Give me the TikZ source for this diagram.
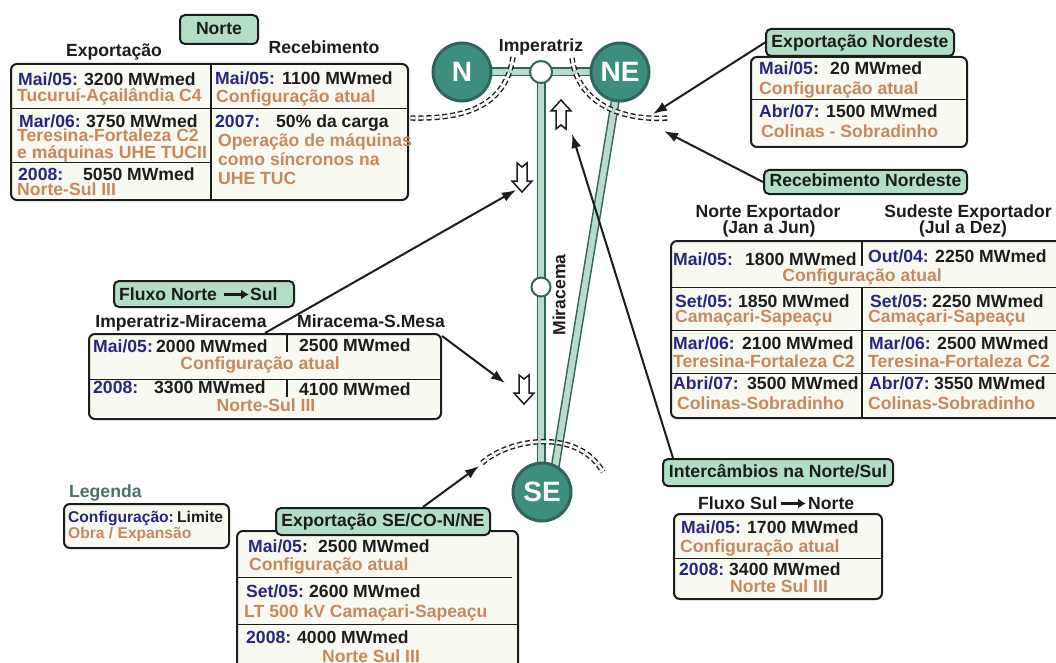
\documentclass[tikz,border=0pt]{standalone}
\usepackage{fontspec}
\setmainfont{Liberation Sans}
\usetikzlibrary{arrows.meta}
\definecolor{navy}{RGB}{40,38,128}
\definecolor{ocre}{RGB}{201,136,92}
\definecolor{ink}{RGB}{28,28,28}
\definecolor{cream}{RGB}{248,249,240}
\definecolor{mint}{RGB}{178,222,198}
\definecolor{tealA}{RGB}{62,142,126}
\definecolor{tealB}{RGB}{50,100,94}
\definecolor{barfill}{RGB}{182,221,202}
\definecolor{legc}{RGB}{78,112,108}
\pgfdeclarelayer{bg}\pgfsetlayers{bg,main}
\begin{document}
\begin{tikzpicture}[x=1pt,y=-1pt,
  tx/.style={font=\fontsize{17.6}{19}\selectfont\bfseries, inner sep=0pt, anchor=base west, text=ink},
  dt/.style={tx, text=navy},
  ob/.style={tx, text=ocre},
  txc/.style={tx, anchor=base},
  obc/.style={ob, anchor=base},
  sm/.style={font=\fontsize{15.6}{17}\selectfont\bfseries, inner sep=0pt, anchor=base west},
  tbox/.style={draw=ink, line width=2pt, rounded corners=6pt, fill=cream, inner sep=0pt, anchor=north west},
  lbox/.style={draw=ink, line width=2pt, rounded corners=5pt, fill=mint, inner sep=0pt, anchor=north west,
     font=\fontsize{17.6}{19}\selectfont\bfseries, text=ink, text height=12.7pt, text depth=3.5pt},
  sep/.style={draw=ink, line width=1pt},
  dv/.style={draw=ink, line width=2pt},
  bus/.style={draw=tealB, line width=1.5pt, double=barfill, double distance=6pt},
  big/.style={circle, draw=tealB, line width=3pt, fill=tealA, minimum size=58pt, inner sep=0pt, text=white,
     font=\fontsize{28}{28}\selectfont\bfseries},
  sml/.style={circle, draw=tealB, line width=2pt, fill=white, inner sep=0pt},
  ptr/.style={draw=ink, line width=2pt, -{Latex[length=14pt,width=10pt]}},
  flowarr/.style={draw=ink, line width=2.6pt, -{Latex[length=8pt,width=10pt]}},
  cut/.style={draw=ink, line width=1.4pt, double=white, double distance=2.6pt, dash pattern=on 5pt off 3pt},
  blk/.style={draw=ink, line width=1.5pt, fill=white, line join=miter},
  uparr/.pic={\draw[blk] (0,0) -- (10,11) -- (5,11) -- (5,29) -- (0,25) -- (-5,29) -- (-5,11) -- (-10,11) -- cycle;}
]
\useasboundingbox (0,0) rectangle (1056,663);
\begin{pgfonlayer}{bg}
\fill[white] (0,0) rectangle (1056,663);
\end{pgfonlayer}

% ---------------- network ----------------
\node[big] (N) at (462,72) {N};
\node[big] (NE) at (620,72) {NE};
\node[big] (SE) at (542,492) {SE};
\node[sml, minimum size=22pt] (imp) at (541,72) {};
\node[sml, minimum size=19pt] (mir) at (541,287) {};
\coordinate (dgend) at (551,492);
\coordinate (vend) at (541,492);
\begin{pgfonlayer}{bg}
\draw[bus] (N.center) -- (NE.center);
\draw[bus] (imp.center) -- (vend);
\draw[bus] (NE.center) -- (dgend);
\end{pgfonlayer}
\node[txc] (impl) at (541,52) {Imperatriz};
\node[tx, anchor=center, rotate=90] (mirl) at (559,295) {Miracema};

% cut sections
\draw[cut] (513,57) .. controls (505,112) and (455,119) .. (410,118);
\draw[cut] (572,58) .. controls (578,104) and (622,121) .. (668,118);
\draw[cut] (482,463) .. controls (510,438) and (578,428) .. (603,472);

% block arrows
\pic at (561,100) {uparr};
\pic[rotate=180] at (522,192) {uparr};
\pic[rotate=180] at (524,404) {uparr};

% ---------------- Norte ----------------
\node[lbox, minimum width=78pt, minimum height=29pt] (norte) at (179,14) {Norte};
\node[txc] (h1) at (114,57) {Exportação};
\node[txc] (h2) at (324,54) {Recebimento};
\node[tbox, minimum width=397pt, minimum height=136pt] (nt) at (10,63) {};
\draw[dv] (211,63) -- (211,199);
\draw[sep] (10,108.5) -- (407,108.5);
\draw[sep] (10,163) -- (211,163);
\node[dt] (a1) at (18,86) {Mai/05:};
\node[tx] (a2) at (84,86) {3200 MWmed};
\node[ob] (a3) at (17,102) {Tucuruí-Açailândia C4};
\node[dt] (a4) at (19,128) {Mar/06:};
\node[tx] (a5) at (86,128) {3750 MWmed};
\node[ob] (a6) at (17,142) {Teresina-Fortaleza C2};
\node[ob] (a7) at (17,158) {e máquinas UHE TUCII};
\node[dt] (a8) at (18,180) {2008:};
\node[tx] (a9) at (83,180) {5050 MWmed};
\node[ob] (a10) at (17,195) {Norte-Sul III};
\node[dt] (b1) at (215,85) {Mai/05:};
\node[tx] (b2) at (282,85) {1100 MWmed};
\node[ob] (b3) at (216,103) {Configuração atual};
\node[dt] (b4) at (215,128) {2007:};
\node[tx] (b5) at (276,128) {50\% da carga};
\node[ob] (b6) at (218,147) {Operação de máquinas};
\node[ob] (b7) at (218,166) {como síncronos na};
\node[ob] (b8) at (218,184) {UHE TUC};

% ---------------- Exportacao Nordeste ----------------
\node[tbox, minimum width=216pt, minimum height=90pt] (ent) at (750,56) {};
\draw[sep] (750,100) -- (966,100);
\node[lbox, minimum width=188pt, minimum height=27pt] (expne) at (765,28) {Exportação Nordeste};
\node[dt] (c1) at (759,75) {Mai/05\textcolor{ink}{:}};
\node[tx] (c2) at (830,75) {20 MWmed};
\node[ob] (c3) at (759,95) {Configuração atual};
\node[dt] (c4) at (759,118) {Abr/07:};
\node[tx] (c5) at (826,118) {1500 MWmed};
\node[ob] (c6) at (761,138) {Colinas - Sobradinho};

% ---------------- Recebimento Nordeste ----------------
\node[lbox, minimum width=203pt, minimum height=24pt] (recne) at (763,169) {Recebimento Nordeste};
\node[txc] (h3) at (768,217) {Norte Exportador};
\node[txc] (h4) at (769,233) {(Jan a Jun)};
\node[txc] (h5) at (968,217) {Sudeste Exportador};
\node[txc] (h6) at (963,233) {(Jul a Dez)};
\node[tbox, minimum width=400pt, minimum height=177pt] (rt) at (670,240) {};
\draw[dv] (862,240) -- (862,266);
\draw[dv] (862,287) -- (862,417);
\draw[sep] (670,287) -- (1070,287);
\draw[sep] (670,330) -- (1070,330);
\draw[sep] (670,373) -- (1070,373);
\node[dt] (d1) at (673,265) {Mai/05:};
\node[tx] (d2) at (745,265) {1800 MWmed};
\node[dt] (d3) at (868,262) {Out/04:};
\node[tx] (d4) at (935,262) {2250 MWmed};
\node[obc] (d5) at (862,281) {Configuração atual};
\node[dt] (d6) at (675,307) {Set/05:};
\node[tx] (d7) at (738,307) {1850 MWmed};
\node[ob] (d8) at (675,322) {Camaçari-Sapeaçu};
\node[dt] (d9) at (870,307) {Set/05:};
\node[tx] (d10) at (932,307) {2250 MWmed};
\node[ob] (d11) at (868,322) {Camaçari-Sapeaçu};
\node[dt] (d12) at (673,349) {Mar/06:};
\node[tx] (d13) at (742,349) {2100 MWmed};
\node[ob] (d14) at (673,367) {Teresina-Fortaleza C2};
\node[dt] (d15) at (869,349) {Mar/06:};
\node[tx] (d16) at (937,349) {2500 MWmed};
\node[ob] (d17) at (868,367) {Teresina-Fortaleza C2};
\node[dt] (d18) at (673,389) {Abri/07:};
\node[tx] (d19) at (747,389) {3500 MWmed};
\node[ob] (d20) at (677,409) {Colinas-Sobradinho};
\node[dt] (d21) at (869,389) {Abr/07:};
\node[tx] (d22) at (934,389) {3550 MWmed};
\node[ob] (d23) at (868,409) {Colinas-Sobradinho};

% ---------------- Fluxo Norte -> Sul ----------------
\node[lbox, minimum width=180pt, minimum height=26pt] (flab) at (113,280) {};
\node[tx] (fl1) at (119,300) {Fluxo Norte};
\node[tx] (fl2) at (250,300) {Sul};
\coordinate (fa1) at (224,294.5);
\coordinate (fa2) at (249,294.5);
\draw[flowarr] (fa1) -- (fa2);
\node[txc] (h7) at (181,327) {Imperatriz-Miracema};
\node[txc] (h8) at (371,327) {Miracema-S.Mesa};
\node[tbox, minimum width=352pt, minimum height=85pt] (fl) at (88,333) {};
\draw[sep] (88,379) -- (440,379);
\draw[dv] (287,333) -- (287,352);
\draw[dv] (287,379) -- (287,397);
\node[dt] (e1) at (93,352) {Mai/05:};
\node[tx] (e2) at (156,352) {2000 MWmed};
\node[tx] (e3) at (299,351) {2500 MWmed};
\node[obc] (e4) at (260,369) {Configuração atual};
\node[dt] (e5) at (93,393) {2008:};
\node[tx] (e6) at (154,393) {3300 MWmed};
\node[tx] (e7) at (299,395) {4100 MWmed};
\node[obc] (e8) at (266,411) {Norte-Sul III};

% ---------------- Legenda ----------------
\node[tx, text=legc] (lg) at (69,497) {Legenda};
\node[tbox, minimum width=165pt, minimum height=44pt] (lgb) at (63,503) {};
\node[sm, text=navy] (lg1) at (68,522) {Configuração:};
\node[sm, text=ink] (lg1b) at (177,522) {Limite};
\node[sm, text=ocre] (lg2) at (68,538) {Obra / Expansão};

% ---------------- Exportacao SE/CO-N/NE ----------------
\node[tbox, minimum width=281pt, minimum height=170pt] (set) at (236,530) {};
\draw[sep] (236,577) -- (512,577);
\draw[sep] (236,624) -- (517,624);
\node[lbox, minimum width=214pt, minimum height=27pt] (selab) at (275,507) {Exportação SE/CO-N/NE};
\node[dt] (f1) at (248,552) {Mai/05\textcolor{ink}{:}};
\node[tx] (f2) at (318,552) {2500 MWmed};
\node[ob] (f3) at (249,570) {Configuração atual};
\node[dt] (f4) at (246,597) {Set/05:};
\node[tx] (f5) at (309,597) {2600 MWmed};
\node[ob] (f6) at (244,617) {LT 500 kV Camaçari-Sapeaçu};
\node[dt] (f7) at (246,643) {2008:};
\node[tx] (f8) at (297,643) {4000 MWmed};
\node[obc] (f9) at (371,662) {Norte Sul III};

% ---------------- Intercambios ----------------
\node[lbox, minimum width=230pt, minimum height=27pt] (ic) at (662,458) {Intercâmbios na Norte/Sul};
\node[tx] (h9) at (698,509) {Fluxo Sul};
\node[tx] (h10) at (808,509) {Norte};
\coordinate (fb1) at (781,503.5);
\coordinate (fb2) at (806,503.5);
\draw[flowarr] (fb1) -- (fb2);
\node[tbox, minimum width=208pt, minimum height=85pt] (it) at (673,513) {};
\draw[sep] (673,558) -- (881,558);
\node[dt] (g1) at (681,533) {Mai/05:};
\node[tx] (g2) at (747,533) {1700 MWmed};
\node[ob] (g3) at (680,552) {Configuração atual};
\node[dt] (g4) at (679,575) {2008:};
\node[tx] (g5) at (729,575) {3400 MWmed};
\node[obc] (g6) at (779,592) {Norte Sul III};

% ---------------- pointers ----------------
\coordinate (tNE) at (653,114);
\coordinate (tRNE) at (664,131);
\coordinate (tIC) at (572,134);
\coordinate (tFL) at (516,190);
\coordinate (tFR) at (505,383);
\coordinate (tSE) at (479,466);
\draw[ptr] (expne.west) -- (tNE);
\draw[ptr] (recne.west) -- (tRNE);
\draw[ptr] ([xshift=11pt]ic.north west) -- (tIC);
\draw[ptr] ([xshift=177pt]fl.north west) -- (tFL);
\draw[ptr] ([yshift=-3pt]fl.north east) -- (tFR);
\draw[ptr] ([xshift=148pt]selab.north west) -- (tSE);
\end{tikzpicture}
\end{document}
